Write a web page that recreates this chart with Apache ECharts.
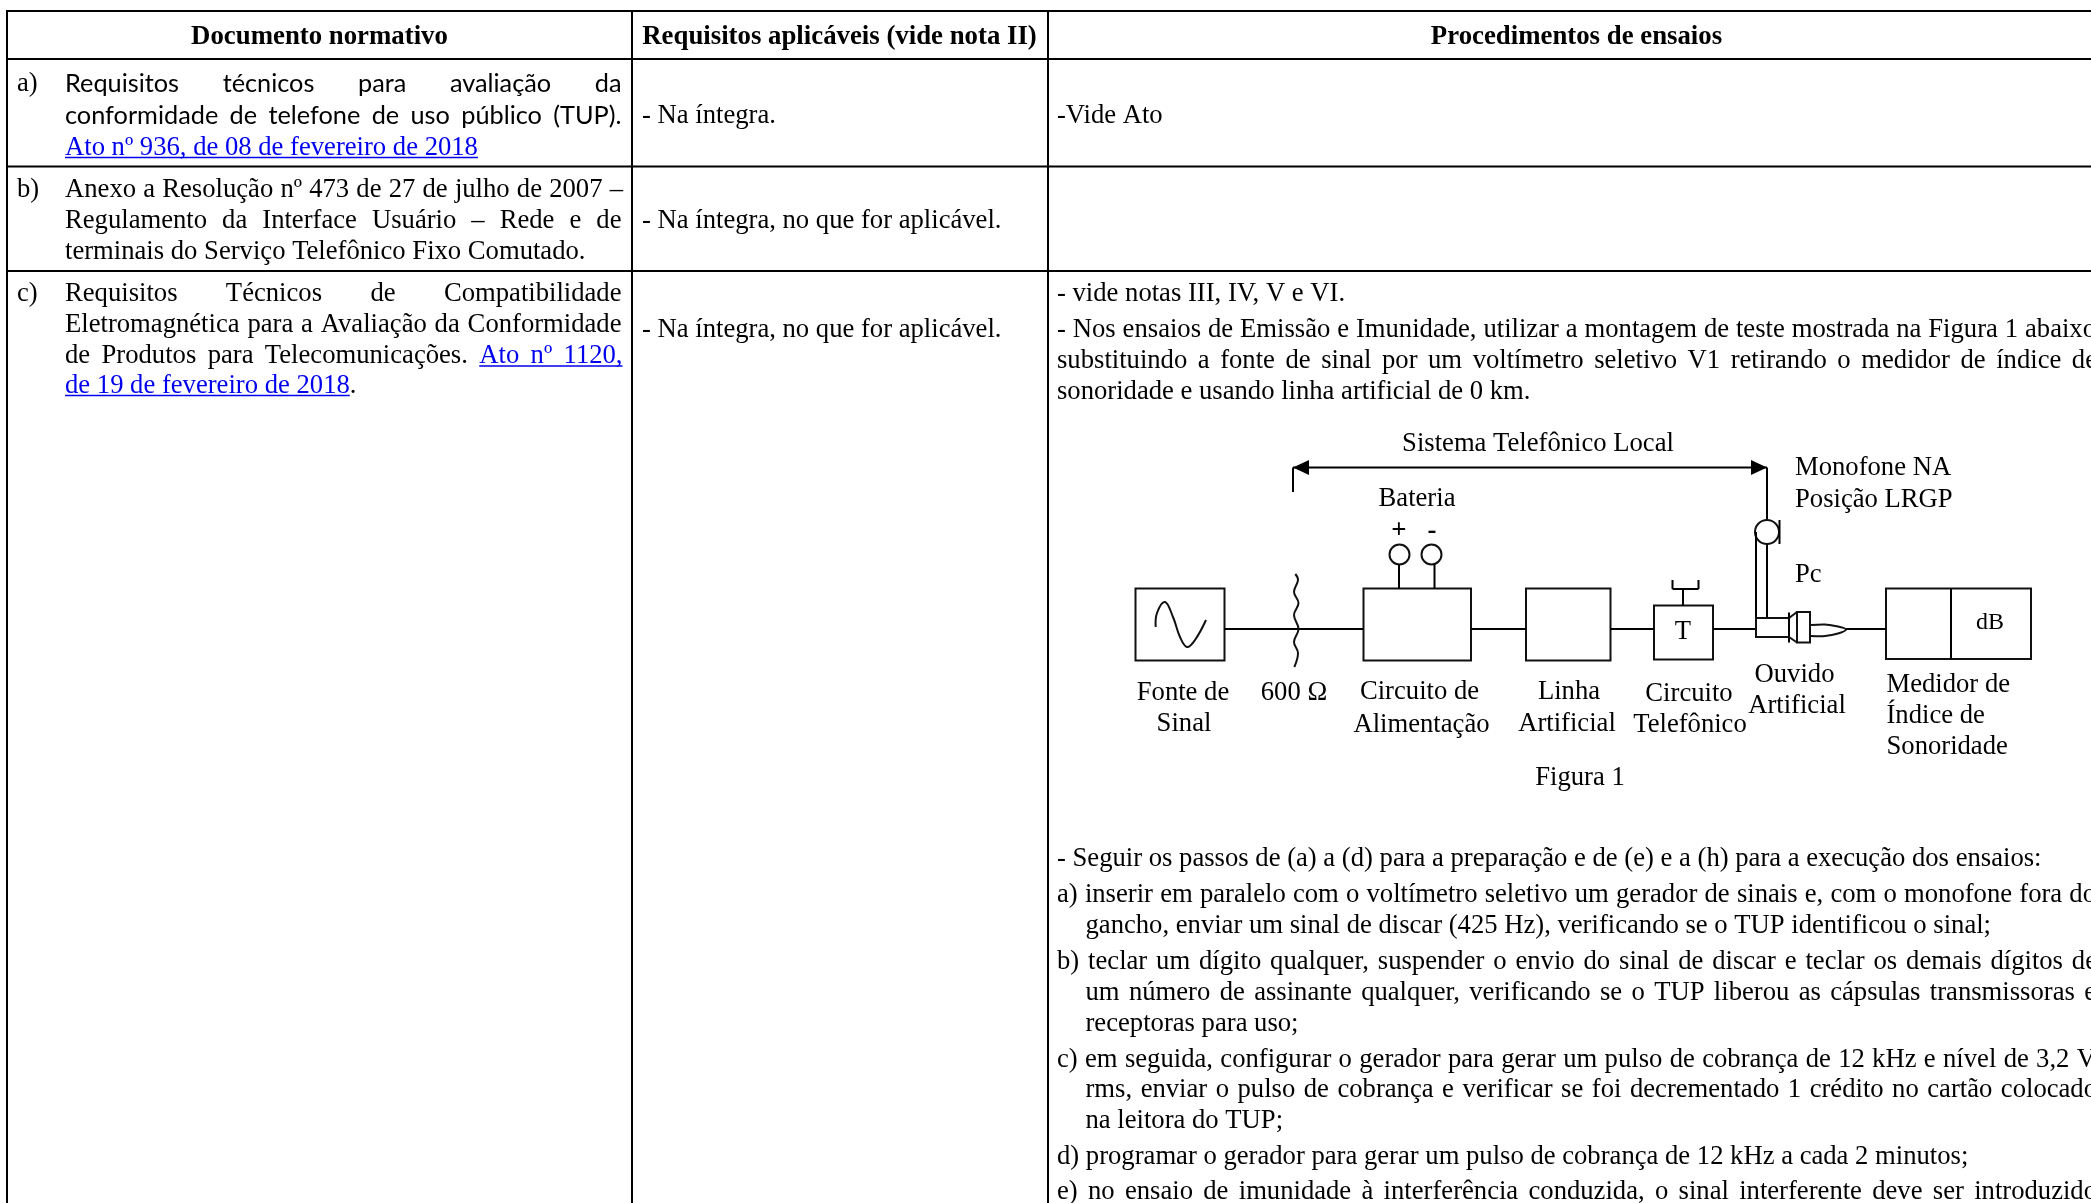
<!DOCTYPE html>
<html>
<head>
<meta charset="utf-8">
<title>Documento normativo</title>
<script src="https://cdn.jsdelivr.net/npm/echarts@6/dist/echarts.min.js"></script>
<style>
html, body { margin: 0; padding: 0; background: #fff; overflow: hidden; }
#chartWrapper { width: 2091px; height: 1203px; }
</style>
</head>
<body>
<div id="chartWrapper"></div>
<script>
// Textos da tabela
const headers = ["Documento normativo", "Requisitos aplicáveis (vide nota II)", "Procedimentos de ensaios"];
const rowLabels = ["a)", "b)", "c)"];
const rowA = ["Requisitos técnicos para avaliação da", "conformidade de telefone de uso público (TUP)."];
const rowALink = "Ato nº 936, de 08 de fevereiro de 2018";
const rowB = ["Anexo a Resolução nº 473 de 27 de julho de 2007 –", "Regulamento da Interface Usuário – Rede e de", "terminais do Serviço Telefônico Fixo Comutado."];
const rowC = ["Requisitos Técnicos de Compatibilidade", "Eletromagnética para a Avaliação da Conformidade", "de Produtos para Telecomunicações."];
const rowCLink = ["Ato nº 1120,", "de 19 de fevereiro de 2018"];
const requisitos = ["- Na íntegra.", "- Na íntegra, no que for aplicável."];
const videAto = "-Vide Ato";
const notas = "- vide notas III, IV, V e VI.";
const intro = [
	"- Nos ensaios de Emissão e Imunidade, utilizar a montagem de teste mostrada na Figura 1 abaixo",
	"substituindo a fonte de sinal por um voltímetro seletivo V1 retirando o medidor de índice de",
	"sonoridade e usando linha artificial de 0 km."
];
const passos = [
	"- Seguir os passos de (a) a (d) para a preparação e de (e) e a (h) para a execução dos ensaios:",
	"a) inserir em paralelo com o voltímetro seletivo um gerador de sinais e, com o monofone fora do",
	"gancho, enviar um sinal de discar (425 Hz), verificando se o TUP identificou o sinal;",
	"b) teclar um dígito qualquer, suspender o envio do sinal de discar e teclar os demais dígitos de",
	"um número de assinante qualquer, verificando se o TUP liberou as cápsulas transmissoras e",
	"receptoras para uso;",
	"c) em seguida, configurar o gerador para gerar um pulso de cobrança de 12 kHz e nível de 3,2 V",
	"rms, enviar o pulso de cobrança e verificar se foi decrementado 1 crédito no cartão colocado",
	"na leitora do TUP;",
	"d) programar o gerador para gerar um pulso de cobrança de 12 kHz a cada 2 minutos;",
	"e) no ensaio de imunidade à interferência conduzida, o sinal interferente deve ser introduzido"
];
// Textos da figura
const figTitle = "Sistema Telefônico Local";
const figBateria = ["Bateria", "+", "-"];
const figFonte = ["Fonte de", "Sinal"];
const figOhm = "600 Ω";
const figAlim = ["Circuito de", "Alimentação"];
const figLinha = ["Linha", "Artificial"];
const figCircuito = ["Circuito", "Telefônico"];
const figOuvido = ["Ouvido", "Artificial"];
const figMedidor = ["Medidor de", "Índice de", "Sonoridade"];
const figMonofone = ["Monofone NA", "Posição LRGP", "Pc"];
const figLegenda = "Figura 1";
const figT = "T";
const figDb = "dB";

const SERIF = '26.65px "Liberation Serif"';
const SERIF_BOLD = 'bold 26.8px "Liberation Serif"';
const LATO = '25.3px Lato';
const LINK = '#0000ee';

const myChart = echarts.init(document.getElementById("chartWrapper"), null, { renderer: "canvas" });
const measure = document.createElement("canvas").getContext("2d");
const elements = [];

function textWidth(str, font) {
	measure.font = font;
	return measure.measureText(str).width;
}
function addText(str, x, y, font, align, fill) {
	elements.push({
		type: "text", silent: true,
		style: { text: str, x: x, y: y + 1, font: font || SERIF, fill: fill || "#000", textAlign: align || "left", textVerticalAlign: "middle" }
	});
}
function addLine(x1, y1, x2, y2, width) {
	elements.push({
		type: "line", silent: true,
		shape: { x1: x1, y1: y1, x2: x2, y2: y2 },
		style: { stroke: "#000", lineWidth: width || 2 }
	});
}
function addBox(x, y, w, h) {
	elements.push({
		type: "rect", silent: true,
		shape: { x: x, y: y, width: w, height: h },
		style: { fill: "none", stroke: "#111", lineWidth: 2 }
	});
}
function addCurve(points, smooth) {
	elements.push({
		type: "polyline", silent: true,
		shape: { points: points, smooth: smooth },
		style: { fill: "none", stroke: "#111", lineWidth: 2 }
	});
}
function addArrow(tipX, y, baseX) {
	elements.push({
		type: "polygon", silent: true,
		shape: { points: [[tipX, y], [baseX, y - 7.5], [baseX, y + 7.5]] },
		style: { fill: "#000" }
	});
}
function addUnderline(x1, x2, y) {
	elements.push({
		type: "line", silent: true,
		shape: { x1: x1, y1: y, x2: x2, y2: y },
		style: { stroke: LINK, lineWidth: 1.6 }
	});
}
// Linha justificada: distribui o espaço entre as palavras até alcançar "right"
function addJustified(str, x, right, y, font, fill) {
	const f = font || SERIF;
	const words = str.split(" ");
	const total = words.reduce((sum, w) => sum + textWidth(w, f), 0);
	const gap = (right - x - total) / (words.length - 1);
	let pos = x;
	words.forEach((w) => {
		addText(w, pos, y, f, "left", fill);
		pos += textWidth(w, f) + gap;
	});
}

function drawTable() {
	addLine(7, 11, 2091, 11);
	addLine(7, 59, 2091, 59);
	addLine(7, 166.5, 2091, 166.5);
	addLine(7, 271, 2091, 271);
	addLine(7, 10, 7, 1203);
	addLine(632, 10, 632, 1203);
	addLine(1048, 10, 1048, 1203);

	addText(headers[0], 319.5, 36.5, SERIF_BOLD, "center");
	addText(headers[1], 839.5, 36.5, SERIF_BOLD, "center");
	addText(headers[2], 1576.5, 36.5, SERIF_BOLD, "center");

	addText(rowLabels[0], 17, 83);
	addText(rowLabels[1], 17, 189);
	addText(rowLabels[2], 17, 293);

	addJustified(rowA[0], 65, 621.5, 82.5, LATO);
	addJustified(rowA[1], 65, 621.5, 114.5, LATO);
	addText(rowALink, 65, 147, SERIF, "left", LINK);
	addUnderline(65, 65 + textWidth(rowALink, SERIF), 157.5);

	addJustified(rowB[0], 65, 623, 189);
	addJustified(rowB[1], 65, 621.5, 220);
	addText(rowB[2], 65, 251);

	addJustified(rowC[0], 65, 621.5, 293);
	addJustified(rowC[1], 65, 621.5, 324);
	// linha mista: texto preto e link azul dividem o mesmo espaçamento
	const blackWords = rowC[2].split(" ");
	const linkWords = rowCLink[0].split(" ");
	const wordsWidth = blackWords.concat(linkWords).reduce((sum, w) => sum + textWidth(w, SERIF), 0);
	const gap = (622.5 - 65 - wordsWidth) / (blackWords.length + linkWords.length - 1);
	let pos = 65;
	blackWords.forEach((w) => {
		addText(w, pos, 355);
		pos += textWidth(w, SERIF) + gap;
	});
	addUnderline(pos, 622.5, 366);
	linkWords.forEach((w) => {
		addText(w, pos, 355, SERIF, "left", LINK);
		pos += textWidth(w, SERIF) + gap;
	});
	addText(rowCLink[1], 65, 385, SERIF, "left", LINK);
	const endX = 65 + textWidth(rowCLink[1], SERIF);
	addUnderline(65, endX, 395.5);
	addText(".", endX, 385);

	addText(requisitos[0], 642, 115);
	addText(requisitos[1], 642, 220);
	addText(requisitos[1], 642, 329);

	addText(videAto, 1057, 115);
	addText(notas, 1057, 293);
	addJustified(intro[0], 1057, 2096, 329);
	addJustified(intro[1], 1057, 2097, 360);
	addText(intro[2], 1057, 391);

	const indent = 1085.5;
	addText(passos[0], 1057, 858);
	addJustified(passos[1], 1057, 2096, 894);
	addText(passos[2], indent, 925);
	addJustified(passos[3], 1057, 2097, 961);
	addJustified(passos[4], indent, 2096, 992);
	addText(passos[5], indent, 1023);
	addJustified(passos[6], 1057, 2096, 1059);
	addJustified(passos[7], indent, 2097, 1089);
	addText(passos[8], indent, 1120);
	addText(passos[9], 1057, 1156);
	addJustified(passos[10], 1057, 2097, 1191);
}

function drawFigure() {
	// seta do sistema telefônico
	addLine(1293, 467.5, 1767, 467.5);
	addLine(1293, 467.5, 1293, 492);
	addArrow(1293, 467.5, 1309);
	addArrow(1767, 467.5, 1751);

	// caixas
	addBox(1135.5, 588.5, 89, 72);
	addBox(1363.5, 588.5, 107.5, 72);
	addBox(1526, 588.5, 84.5, 72);
	addBox(1654, 605.5, 59, 54);
	addBox(1886, 588.5, 145, 70.5);
	addLine(1951, 588.5, 1951, 659);

	// ligações
	addLine(1224, 629, 1363, 629);
	addLine(1471, 629, 1526, 629);
	addLine(1610, 629, 1654, 629);
	addLine(1713, 629, 1756, 629);
	addLine(1846, 629, 1886, 629);

	// senoide e resistor ondulado
	addCurve([[1155.7, 627], [1157, 613], [1165, 602], [1173, 617], [1180, 637], [1187, 647], [1195, 640], [1206, 620]], 0.4);
	addCurve([[1295.3, 574], [1298, 580], [1294, 592], [1298.5, 603], [1294, 615], [1298.5, 629], [1294, 642], [1298, 653], [1294.3, 667]], 0.4);

	// bateria
	elements.push({ type: "circle", silent: true, shape: { cx: 1399.5, cy: 554.5, r: 10 }, style: { fill: "#fff", stroke: "#111", lineWidth: 2 } });
	elements.push({ type: "circle", silent: true, shape: { cx: 1431.5, cy: 554.5, r: 10 }, style: { fill: "#fff", stroke: "#111", lineWidth: 2 } });
	addLine(1399, 564.5, 1399, 588.5);
	addLine(1434.5, 564.5, 1434.5, 588.5);

	// gancho do circuito telefônico
	addLine(1683, 605.5, 1683, 589);
	addLine(1672.5, 589, 1698.5, 589);
	addLine(1672.5, 589, 1672.5, 580);
	addLine(1698.5, 589, 1698.5, 580);

	// monofone e ouvido artificial
	addLine(1767, 467.5, 1767, 520);
	elements.push({ type: "circle", silent: true, shape: { cx: 1767, cy: 532, r: 12 }, style: { fill: "#fff", stroke: "#111", lineWidth: 2 } });
	addLine(1779.5, 520, 1779.5, 544);
	addLine(1756, 532, 1756, 618);
	addLine(1767, 544, 1767, 618);
	addBox(1756, 618, 33, 19);
	addLine(1789, 612.5, 1789, 642.5);
	addBox(1797, 612, 13, 30.5);
	addCurve([[1789, 618], [1797, 612]], 0);
	addCurve([[1789, 637], [1797, 642.5]], 0);
	addCurve([[1811, 625], [1825, 624.5], [1838, 626.5], [1846, 629.5], [1838, 633.5], [1825, 636], [1811, 636]], 0.3);

	// textos
	addText(figTitle, 1538, 443, SERIF, "center");
	addText(figBateria[0], 1417, 498, SERIF, "center");
	addText(figBateria[1], 1399, 530, SERIF_BOLD, "center");
	addText(figBateria[2], 1432, 530, SERIF_BOLD, "center");
	addText(figFonte[0], 1183, 692, SERIF, "center");
	addText(figFonte[1], 1184, 723, SERIF, "center");
	addText(figOhm, 1294, 692, SERIF, "center");
	addText(figAlim[0], 1419.5, 691, SERIF, "center");
	addText(figAlim[1], 1421.5, 723.5, SERIF, "center");
	addText(figLinha[0], 1569, 691, SERIF, "center");
	addText(figLinha[1], 1567, 723, SERIF, "center");
	addText(figCircuito[0], 1689, 693, SERIF, "center");
	addText(figCircuito[1], 1690, 724, SERIF, "center");
	addText(figOuvido[0], 1794.5, 674, SERIF, "center");
	addText(figOuvido[1], 1797, 705, SERIF, "center");
	addText(figMedidor[0], 1886.5, 684);
	addText(figMedidor[1], 1886.5, 715);
	addText(figMedidor[2], 1886.5, 746);
	addText(figMonofone[0], 1795, 467);
	addText(figMonofone[1], 1795, 499);
	addText(figMonofone[2], 1795, 574);
	addText(figLegenda, 1580, 777, SERIF, "center");
	addText(figT, 1683, 631, SERIF, "center");
	addText(figDb, 1990, 622, '24px "Liberation Serif"', "center");
}

drawTable();
drawFigure();

myChart.setOption({
	animation: false,
	backgroundColor: "#fff",
	graphic: { elements: elements }
});
</script>
</body>
</html>
